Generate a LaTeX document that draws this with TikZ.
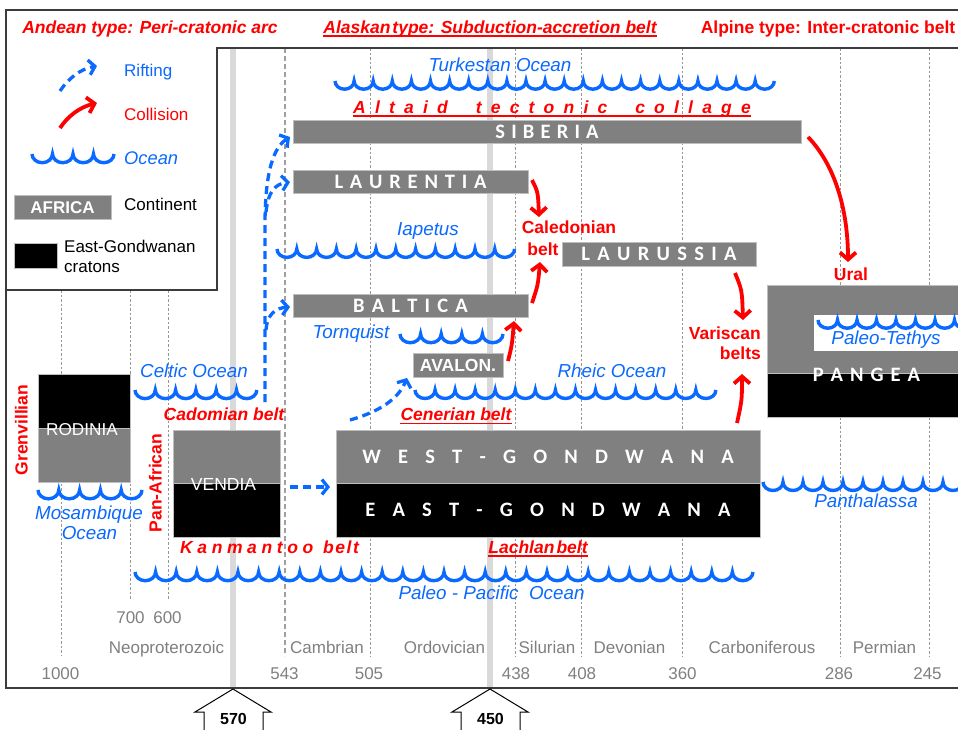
\documentclass[tikz,border=0pt]{standalone}
\usepackage{fontspec}
\setmainfont{Liberation Sans}
\newfontfamily\calfont{Carlito}
\usetikzlibrary{arrows.meta}
\definecolor{myred}{RGB}{255,0,0}
\definecolor{myblue}{RGB}{10,105,255}
\definecolor{boxgray}{RGB}{128,128,128}
\definecolor{boxedge}{RGB}{190,190,190}
\definecolor{framegray}{RGB}{60,60,60}
\definecolor{lightbar}{RGB}{217,217,217}
\definecolor{dotgray}{RGB}{150,150,150}
\definecolor{scalegray}{RGB}{128,128,128}
\newlength\mylsp
\def\sptext#1#2{\setlength{\mylsp}{#1}\sptextA#2\relax}
\def\sptextA#1{#1\sptextB}
\def\sptextB#1{\ifx#1\relax\else\hspace{\mylsp}#1\expandafter\sptextB\fi}
\newcommand\myfs[1]{\fontsize{#1}{#1}\selectfont}
\newcommand\oceanwave[5]{\draw[wavy] (#1,#2) \foreach \i in {1,...,#3}{ arc[start angle=180,end angle=360,x radius=#4pt,y radius=#5pt]};}
\begin{document}
\begin{tikzpicture}[x=1pt,y=-1pt,
 lbl/.style={inner sep=0pt,text height=12.5pt,text depth=3.5pt},
 redb/.style={lbl,text=myred,font=\myfs{17.5}\bfseries},
 redbi/.style={lbl,text=myred,font=\myfs{17.5}\bfseries\itshape},
 oce/.style={lbl,text=myblue,font=\myfs{18.8}\itshape},
 scl/.style={lbl,text=scalegray,font=\myfs{17}},
 leg/.style={lbl,font=\myfs{17}},
 cont/.style={fill=boxgray,draw=boxedge,line width=0.8pt,inner sep=0pt,text=white,font=\calfont\myfs{20.5}\bfseries,text height=13.2pt,text depth=0pt},
 crat/.style={cont,fill=black},
 wavy/.style={myblue,line width=3.4pt},
 rift/.style={myblue,line width=3.3pt,dash pattern=on 8pt off 5pt,-{Straight Barb[length=6pt,width=15pt]}},
 coll/.style={myred,line width=3.8pt,-{Straight Barb[length=7pt,width=16pt]}},
 vdot/.style={dotgray,line width=0.8pt,dash pattern=on 2.5pt off 2pt},
 frm/.style={framegray,line width=1.8pt},
 uline/.style={myred,line width=1.3pt},
 pent/.style={black,line width=1pt}
]
\useasboundingbox (0,0) rectangle (958,729);
\fill[white] (0,0) rectangle (958,729);
% time grid
\draw[lightbar,line width=6pt] (233,48) -- (233,688);
\draw[lightbar,line width=6pt] (490,48) -- (490,688);
\foreach \x/\ya/\yb in {61/290/656,130/290/600,168/290/600,370/48/656,515/48/656,581/48/656,682/48/656,840/48/656,929/48/656}
  \draw[vdot] (\x,\ya) -- (\x,\yb);
\draw[gray!75,line width=1.8pt,dash pattern=on 5pt off 3pt] (285,48) -- (285,656);
% frames
\draw[frm] (965,10) -- (6,10) -- (6,688) -- (965,688);
\draw[frm] (6,290) -- (217,290) -- (217,48) -- (965,48);
% headers
\node[redbi] (andean) at (150,29) {Andean type: Peri-cratonic arc};
\node[redbi] (alaska) at (490,29) {Alaskan\hspace{2pt}type: Subduction-accretion belt};
\draw[uline] ([yshift=-2.5pt]alaska.base west) -- ([yshift=-2.5pt]alaska.base east);
\node[redb] (alpine) at (828,29) {Alpine type: Inter-cratonic belt};
% legend
\coordinate (lr1) at (60,91); \coordinate (lr2) at (97,66);
\draw[rift] (lr1) .. controls (68,79) and (80,69) .. (lr2);
\node[leg,text=myblue,anchor=west] (lrift) at (124,71.5) {Rifting};
\coordinate (lc1) at (60,128); \coordinate (lc2) at (97,103);
\draw[coll] (lc1) .. controls (68,116) and (80,107) .. (lc2);
\node[leg,text=myred,anchor=west] (lcoll) at (124,116) {Collision};
\oceanwave{32}{154}{4}{10.25}{8.7}
\node[oce,anchor=west,font=\myfs{18.3}\itshape] (locean) at (124,160) {Ocean};
\node[cont,minimum width=97pt,minimum height=24pt,font=\myfs{17}\bfseries,text height=12.2pt] (lafrica) at (62.5,207) {AFRICA};
\node[leg,anchor=west] (lcontinent) at (124,205.5) {Continent};
\node[crat,minimum width=43pt,minimum height=25pt] (lcraton) at (35.5,255.5) {};
\node[leg,anchor=west] (lega) at (64,248) {East-Gondwanan};
\node[leg,anchor=west] (legb) at (64,268) {cratons};
% top area
\oceanwave{335}{81}{23}{9.55}{8.2}
\node[oce] (turk) at (500,66.5) {Turkestan Ocean};
\node[redbi,anchor=base west] (altaid) at (353,113) {\sptext{9.2pt}{Altaid}\hspace{28pt}\sptext{9.2pt}{tectonic}\hspace{28pt}\sptext{9.2pt}{collage}};
\draw[uline] ([yshift=-3pt]altaid.base west) -- ([yshift=-3pt]altaid.base east);
\node[cont,minimum width=508pt,minimum height=23pt] (siberia) at (547,131.5) {\sptext{6.2pt}{SIBERIA}};
\node[cont,minimum width=235pt,minimum height=23pt] (laurentia) at (410.5,181.5) {\sptext{6.8pt}{LAURENTIA}};
\oceanwave{277}{249}{12}{9.9}{8.4}
\node[oce] (iapetus) at (428,231) {Iapetus};
\node[redb] (caledA) at (569,229) {Caledonian};
\node[redb] (caledB) at (543,250.5) {belt};
\node[cont,minimum width=194pt,minimum height=24pt] (laurussia) at (659,254) {\sptext{7.3pt}{LAURUSSIA}};
\node[redb] (ural) at (851,276) {Ural};
\node[cont,minimum width=235pt,minimum height=23pt] (baltica) at (410.5,305.5) {\sptext{7.2pt}{BALTICA}};
\node[oce] (tornq) at (351,334) {Tornquist};
\oceanwave{400}{334}{5}{10.3}{8.7}
\node[cont,minimum width=90pt,minimum height=24pt,font=\myfs{17.5}\bfseries,text height=12.5pt] (avalon) at (458,365) {AVALON.};
\node[oce] (rheic) at (612,373) {Rheic Ocean};
\oceanwave{415}{390}{15}{10.03}{8.5}
\node[oce] (celtic) at (194,373) {Celtic Ocean};
\oceanwave{135}{390}{6}{10.15}{8.6}
\node[redbi] (cadom) at (224,416) {Cadomian belt};
\node[redbi] (ceneri) at (456,416) {Cenerian belt};
\draw[uline] ([yshift=-3pt]ceneri.base west) -- ([yshift=-3pt]ceneri.base east);
% Pangea
\node[cont,minimum width=210pt,minimum height=88pt] (pangeaT) at (872,329) {};
\node[crat,minimum width=210pt,minimum height=44pt] (pangeaB) at (872,395) {};
\node[fill=white,inner sep=0pt,minimum width=166pt,minimum height=36pt] (tethysbox) at (897,333) {};
\oceanwave{818}{320}{8}{9.75}{8.2}
\node[oce] (tethys) at (886,339.5) {Paleo-Tethys};
\node[cont,draw=none,fill=none] (pangea) at (866.5,374.5) {\sptext{7pt}{PANGEA}};
\node[redb,anchor=east] (varisA) at (761,334.5) {Variscan};
\node[redb,anchor=east] (varisB) at (761,354.5) {belts};
% Rodinia
\node[crat,minimum width=92pt,minimum height=54pt] (rodT) at (84,401) {};
\node[cont,minimum width=92pt,minimum height=54pt] (rodB) at (84,455) {};
\node[lbl,text=white,font=\myfs{17.2}] (rodinia) at (82,431) {RODINIA};
\node[redb,rotate=90] (grenv) at (23,430) {Grenvillian};
\oceanwave{38}{490}{5}{10.4}{8.8}
\node[oce] (mosaA) at (89,514.5) {Mosambique};
\node[oce] (mosaB) at (89.5,534.5) {Ocean};
% Vendia
\node[cont,minimum width=107pt,minimum height=53pt] (vendT) at (226.5,456.5) {};
\node[crat,minimum width=107pt,minimum height=54pt] (vendB) at (226.5,510) {};
\node[lbl,text=white,font=\myfs{17.5}] (vendia) at (223.5,485.5) {VENDIA};
\node[redb,rotate=90] (panaf) at (157,483) {Pan-African};
% Gondwana
\node[cont,minimum width=424pt,minimum height=53pt] (westg) at (548,456.5) {\sptext{17.2pt}{WEST-GONDWANA}};
\node[crat,minimum width=424pt,minimum height=54pt] (eastg) at (548,510) {\sptext{17.2pt}{EAST-GONDWANA}};
\oceanwave{763}{482}{10}{10}{8.5}
\node[oce] (panth) at (866,502.5) {Panthalassa};
\node[redbi,anchor=west] (kanm) at (180,549) {\sptext{4.6pt}{Kanmantoo}\hspace{10pt}\sptext{1.5pt}{belt}};
\node[redbi] (lachlan) at (538,549) {Lachlan\hspace{2pt}belt};
\draw[uline] ([yshift=-2.5pt]lachlan.base west) -- ([yshift=-2.5pt]lachlan.base east);
\oceanwave{135}{572}{30}{10.3}{8.7}
\node[oce] (ppac) at (491.5,595) {Paleo - Pacific~ Ocean};
% scale
\node[scl] (t700) at (130.5,619) {700};
\node[scl] (t600) at (167.5,619) {600};
\node[scl] (pNeo) at (166.5,649) {Neoproterozoic};
\node[scl] (pCam) at (327,649) {Cambrian};
\node[scl] (pOrd) at (444.5,649) {Ordovician};
\node[scl] (pSil) at (547,649) {Silurian};
\node[scl] (pDev) at (629.5,649) {Devonian};
\node[scl] (pCar) at (762,649) {Carboniferous};
\node[scl] (pPer) at (884.5,649) {Permian};
\node[scl] (t1000) at (60.5,675) {1000};
\node[scl] (t543) at (284.5,675) {543};
\node[scl] (t505) at (369,675) {505};
\node[scl] (t438) at (516,675) {438};
\node[scl] (t408) at (582,675) {408};
\node[scl] (t360) at (682.5,675) {360};
\node[scl] (t286) at (839,675) {286};
\node[scl] (t245) at (927.5,675) {245};
% bottom markers
\draw[pent] (204,735) -- (204,712) -- (195,712) -- (233,689) -- (271,712) -- (263,712) -- (263,735);
\node[font=\myfs{16}\bfseries,inner sep=0pt] (a570) at (233.5,719) {570};
\draw[pent] (461,735) -- (461,712) -- (452,712) -- (490,689) -- (528,712) -- (520,712) -- (520,735);
\node[font=\myfs{16}\bfseries,inner sep=0pt] (a450) at (490.5,719) {450};
% rifting arrows
\coordinate (rs0) at (265,402); \coordinate (rs1) at (265,225); \coordinate (rsib) at (290,137);
\draw[rift] (rs0) -- (rs1) .. controls (265,170) and (274,147) .. (rsib);
\coordinate (rl0) at (266,212); \coordinate (rlau) at (290,182);
\draw[rift] (rl0) .. controls (268,192) and (275,184) .. (rlau);
\coordinate (rb0) at (266,330); \coordinate (rbal) at (290,307);
\draw[rift] (rb0) .. controls (267,314) and (276,308) .. (rbal);
\coordinate (rv0) at (290,487); \coordinate (rv1) at (330,487);
\draw[rift] (rv0) -- (rv1);
\coordinate (rc0) at (350,420); \coordinate (rc1) at (407,378);
\draw[rift] (rc0) .. controls (378,412) and (398,400) .. (rc1);
% collision arrows
\coordinate (ca0) at (508,361); \coordinate (ca1) at (514,321);
\draw[coll] (ca0) .. controls (512,345) .. (ca1);
\coordinate (cb0) at (532,303); \coordinate (cb1) at (540,262);
\draw[coll] (cb0) .. controls (538,285) .. (cb1);
\coordinate (cl0) at (532,180); \coordinate (cl1) at (539,217);
\draw[coll] (cl0) .. controls (538,192) .. (cl1);
\coordinate (cu0) at (735,273); \coordinate (cu1) at (743,320);
\draw[coll] (cu0) .. controls (742,290) .. (cu1);
\coordinate (cw0) at (737,423); \coordinate (cw1) at (742,374);
\draw[coll] (cw0) .. controls (742,400) .. (cw1);
\coordinate (cs0) at (808,137); \coordinate (cs1) at (848,262);
\draw[coll] (cs0) .. controls (835,165) and (848,210) .. (cs1);
\end{tikzpicture}
\end{document}
